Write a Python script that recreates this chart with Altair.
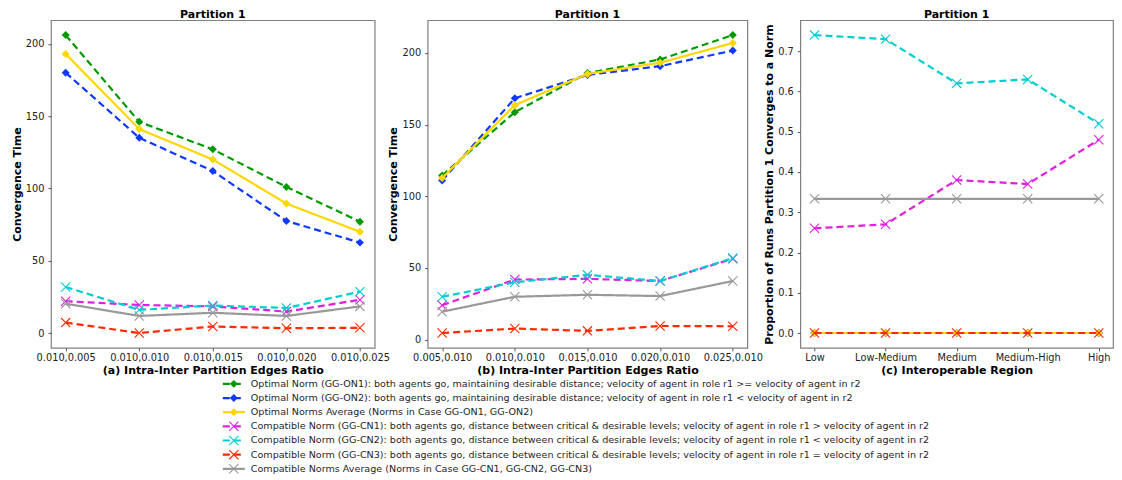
import altair as alt
import pandas as pd

FONT = "DejaVu Sans"

series = ["GG-ON1", "GG-ON2", "ON-AVG", "GG-CN1", "GG-CN2", "GG-CN3", "CN-AVG"]
legend_labels = [
    "Optimal Norm (GG-ON1): both agents go, maintaining desirable distance; velocity of agent in role r1 >= velocity of agent in r2",
    "Optimal Norm (GG-ON2): both agents go, maintaining desirable distance; velocity of agent in role r1 < velocity of agent in r2",
    "Optimal Norms Average (Norms in Case GG-ON1, GG-ON2)",
    "Compatible Norm (GG-CN1): both agents go, distance between critical & desirable levels; velocity of agent in role r1 > velocity of agent in r2",
    "Compatible Norm (GG-CN2): both agents go, distance between critical & desirable levels; velocity of agent in role r1 < velocity of agent in r2",
    "Compatible Norm (GG-CN3): both agents go, distance between critical & desirable levels; velocity of agent in role r1 = velocity of agent in r2",
    "Compatible Norms Average (Norms in Case GG-CN1, GG-CN2, GG-CN3)",
]
colors = ["#009a00", "#1038ff", "#ffd700", "#e020e0", "#00ced1", "#ff2a00", "#999999"]
dashes = [[7, 4], [7, 4], [1, 0], [7, 4], [7, 4], [7, 4], [1, 0]]
kinds = ["opt", "opt", "opt", "comp", "comp", "comp", "comp"]

# Panel (a)
a_labels = ["0.010,0.005", "0.010,0.010", "0.010,0.015", "0.010,0.020", "0.010,0.025"]
a_on1 = [206, 146, 127, 101, 77]
a_on2 = [180, 135, 112, 77.5, 62.5]
a_onavg = [193, 141, 120, 89.5, 70]
a_cn1 = [22, 19.4, 18.4, 14.8, 23]
a_cn2 = [31.8, 16, 19, 17.3, 28.6]
a_cn3 = [7.2, 0, 4.5, 3.3, 3.6]
a_cnavg = [20.3, 11.8, 14, 11.8, 18.4]

# Panel (b)
b_labels = ["0.005,0.010", "0.010,0.010", "0.015,0.010", "0.020,0.010", "0.025,0.010"]
b_on1 = [114.5, 158.7, 186, 195.5, 212.5]
b_on2 = [111, 168.4, 184.7, 190.8, 201.7]
b_onavg = [112.7, 163.6, 185.4, 193.2, 207]
b_cn1 = [23.9, 41.8, 42.3, 40.8, 56.3]
b_cn2 = [29.8, 39.9, 45.1, 40.8, 56.8]
b_cn3 = [4.5, 7.6, 6.0, 9.4, 9.2]
b_cnavg = [19.4, 29.8, 31.2, 30.3, 40.8]

# Panel (c)
c_labels = ["Low", "Low-Medium", "Medium", "Medium-High", "High"]
c_on1 = [0, 0, 0, 0, 0]
c_on2 = [0, 0, 0, 0, 0]
c_onavg = [0, 0, 0, 0, 0]
c_cn1 = [0.26, 0.27, 0.38, 0.37, 0.48]
c_cn2 = [0.74, 0.73, 0.62, 0.63, 0.52]
c_cn3 = [0, 0, 0, 0, 0]
c_cnavg = [0.3333, 0.3333, 0.3333, 0.3333, 0.3333]

XMARK = "M-1,-1L1,1M1,-1L-1,1"


def panel(labels, values, width, ydomain, yticks, yfmt, xtitle, ytitle):
    layers = []
    for s, col, dash, kind, vals in zip(series, colors, dashes, kinds, values):
        df = pd.DataFrame({"x": labels, "y": vals, "idx": list(range(len(labels))), "series": s})
        base = alt.Chart(df).encode(
            x=alt.X("x:N", sort=labels, scale=alt.Scale(domain=labels, padding=0.2),
                    axis=alt.Axis(title=xtitle, labelAngle=0, labelOverlap=False, labelPadding=2,
                                  titlePadding=2)),
            y=alt.Y("y:Q", scale=alt.Scale(domain=ydomain, nice=False, zero=False),
                    axis=alt.Axis(title=ytitle, values=yticks, format=yfmt, labelPadding=4,
                                  titlePadding=3, titleLimit=600)),
            order=alt.Order("idx:Q"),
        )
        layers.append(base.mark_line(color=col, strokeWidth=2.2, strokeDash=dash))
        if kind == "opt":
            layers.append(base.mark_point(shape="diamond", filled=True, size=64, color=col, opacity=1))
        else:
            layers.append(base.mark_point(shape=XMARK, filled=False, size=85, color=col,
                                          strokeWidth=1.1, opacity=1))
    return alt.layer(*layers).properties(width=width, height=328,
                                         title=alt.TitleParams("Partition 1", fontSize=11, fontWeight="bold",
                                                               font=FONT, color="black", offset=0))


def legend_layer():
    layers = []
    yscale = alt.Scale(domain=[0, 6], range=[364, 449])
    for i, (s, col, dash, kind, lab) in enumerate(zip(series, colors, dashes, kinds, legend_labels)):
        df = pd.DataFrame({"row": [i], "label": [lab]})
        base = alt.Chart(df).encode(y=alt.Y("row:Q", scale=yscale, axis=None))
        layers.append(base.mark_rule(color=col, strokeWidth=2.2, strokeDash=dash).encode(
            x=alt.value(172), x2=alt.value(194)))
        if kind == "opt":
            layers.append(base.mark_point(shape="diamond", filled=True, size=64, color=col, opacity=1).encode(
                x=alt.value(183)))
        else:
            layers.append(base.mark_point(shape=XMARK, filled=False, size=85, color=col, strokeWidth=1.1,
                                          opacity=1).encode(x=alt.value(183)))
        layers.append(base.mark_text(align="left", baseline="middle", fontSize=9.6, font=FONT,
                                     color="#262626").encode(x=alt.value(200), text="label:N"))
    return alt.layer(*layers)


pa = panel(a_labels, [a_on1, a_on2, a_onavg, a_cn1, a_cn2, a_cn3, a_cnavg], 324,
           [-10.3, 216.3], [0, 50, 100, 150, 200], "d",
           "(a) Intra-Inter Partition Edges Ratio", "Convergence Time")
pa = alt.layer(pa, legend_layer()).resolve_scale(y="independent")

pb = panel(b_labels, [b_on1, b_on2, b_onavg, b_cn1, b_cn2, b_cn3, b_cnavg], 320,
           [-5.9, 222.9], [0, 50, 100, 150, 200], "d",
           "(b) Intra-Inter Partition Edges Ratio", "Convergence Time")

pc = panel(c_labels, [c_on1, c_on2, c_onavg, c_cn1, c_cn2, c_cn3, c_cnavg], 313,
           [-0.037, 0.777], [0, 0.1, 0.2, 0.3, 0.4, 0.5, 0.6, 0.7], ".1f",
           "(c) Interoperable Region", "Proportion of Runs Partition 1 Converges to a Norm")

chart = alt.hconcat(pa, pb, pc, spacing=53, bounds="flush").properties(
    padding={"left": 2, "top": 0, "right": 0, "bottom": 0},
    background="white",
).configure_view(stroke="#808080", strokeWidth=1.2).configure_axis(
    labelFont=FONT, labelFontSize=9.8, labelColor="#222222", tickColor="#555555", tickSize=3,
    domain=False, grid=False, titleFont=FONT, titleFontSize=11, titleFontWeight="bold", titleColor="black",
)

chart.save("out.html", embed_options={"renderer": "svg", "actions": False})
